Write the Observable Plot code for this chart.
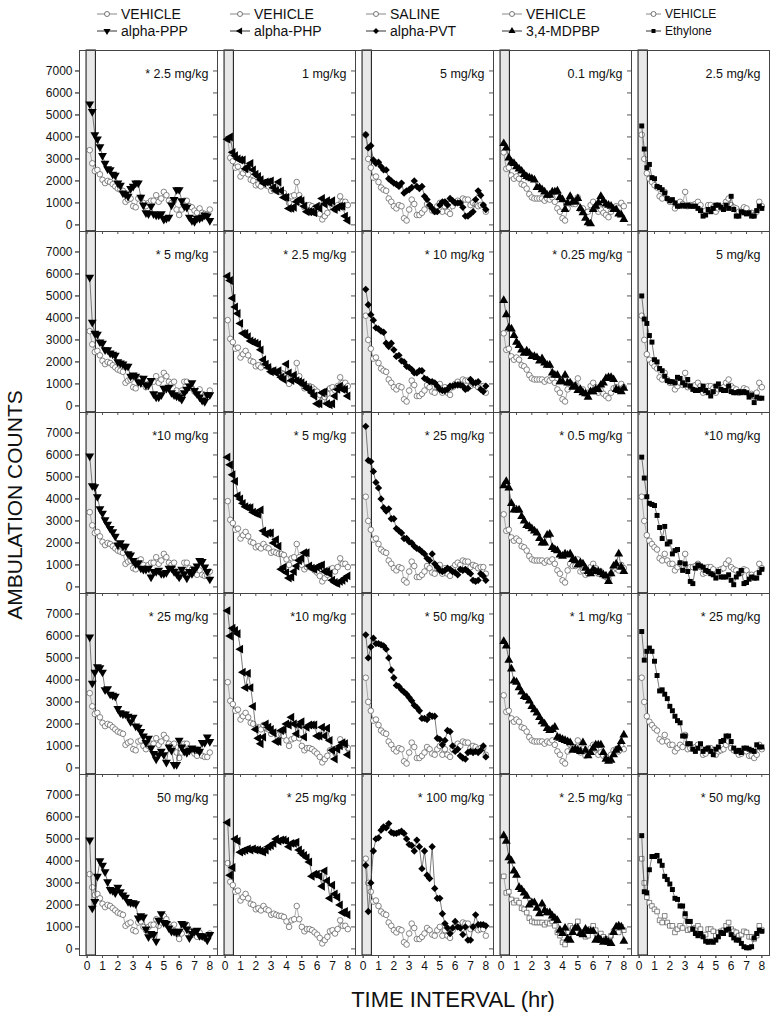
<!DOCTYPE html>
<html><head><meta charset="utf-8">
<script src="https://cdn.jsdelivr.net/npm/d3@7"></script>
<script src="https://cdn.jsdelivr.net/npm/@observablehq/plot@0.6"></script>
<style>
body{margin:0;background:#fff;}
#wrap{position:relative;width:782px;height:1024px;background:#fff;font-family:"Liberation Sans",Arial,sans-serif;overflow:hidden;}
#chart{position:absolute;left:0;top:40px;}
.leg{position:absolute;display:flex;align-items:center;font-family:"Liberation Sans Narrow","Liberation Sans",Arial,sans-serif;color:#111;white-space:nowrap;}
.leg svg{margin-right:4px;}
#ytitle{position:absolute;left:15px;top:505px;transform:translate(-50%,-50%) rotate(-90deg);font-size:21px;white-space:nowrap;color:#111;}
#xtitle{position:absolute;left:453px;top:1000px;transform:translate(-50%,-50%);font-size:22px;white-space:nowrap;color:#111;font-family:"Liberation Sans Narrow","Liberation Sans",Arial,sans-serif;}
</style></head>
<body><div id="wrap"><div id="chart"></div><div id="ytitle">AMBULATION COUNTS</div><div id="xtitle">TIME INTERVAL (hr)</div></div>
<script>
// ---- categories & labels ----
const drugs = ["alpha-PPP","alpha-PHP","alpha-PVT","3,4-MDPBP","Ethylone"];
const controlNames = ["VEHICLE","VEHICLE","SALINE","VEHICLE","VEHICLE"];
const rowsIdx = [0,1,2,3,4];
const doseLabelsPPP = ["* 2.5 mg/kg","* 5 mg/kg","*10 mg/kg","* 25 mg/kg","50 mg/kg"];
const doseLabelsPHP = ["1 mg/kg","* 2.5 mg/kg","* 5 mg/kg","*10 mg/kg","* 25 mg/kg"];
const doseLabelsPVT = ["5 mg/kg","* 10 mg/kg","* 25 mg/kg","* 50 mg/kg","* 100 mg/kg"];
const doseLabelsMDPBP = ["0.1 mg/kg","* 0.25 mg/kg","* 0.5 mg/kg","* 1 mg/kg","* 2.5 mg/kg"];
const doseLabelsEth = ["2.5 mg/kg","5 mg/kg","*10 mg/kg","* 25 mg/kg","* 50 mg/kg"];
const xTicks = [0,1,2,3,4,5,6,7,8];
const yTicks = [0,1000,2000,3000,4000,5000,6000,7000];
const minutes = [10,20,30,40,50,60,70,80,90,100,110,120,130,140,150,160,170,180,190,200,210,220,230,240,250,260,270,280,290,300,310,320,330,340,350,360,370,380,390,400,410,420,430,440,450,460,470,480];
const injectionBand = [{start:-0.04,end:0.57}];

// ---- control series (one per drug column) ----
const vehPPP = [3400,2800,2450,2500,2300,2050,1900,2000,1950,1850,1750,1650,1600,1550,1050,1150,1200,850,800,1200,1250,1000,850,1000,1100,1100,1350,1050,1200,1500,1350,1100,1000,1100,700,450,700,1100,1100,850,800,650,550,750,550,500,500,700];
const vehPHP = [3900,3050,2900,2600,2650,2200,2350,2500,2300,2050,2000,1800,1850,1750,1950,1800,1750,1550,1600,1550,1500,1500,1450,1250,1000,1300,1350,1950,1350,1000,800,900,900,850,750,650,500,250,400,550,800,850,700,900,1300,1050,1050,900];
const salPVT = [4100,3000,2600,2150,2200,1950,1700,1600,1550,1200,1050,850,750,900,850,300,200,700,1150,950,450,450,550,700,950,850,650,600,850,1000,600,850,600,500,850,1000,1100,1000,1200,1150,1150,900,1000,950,850,900,900,600];
const vehMDPBP = [3300,2550,2600,2250,2100,2200,2100,1850,1800,1650,1400,1250,1200,1200,1200,1200,1100,1200,1150,1250,1050,750,600,300,200,750,1050,950,950,1250,700,750,550,600,900,1050,850,600,700,550,450,350,600,800,850,750,1000,850];
const vehEth = [4100,3000,2350,2100,1950,1800,1700,1300,1200,1500,1200,1050,1050,750,900,1050,950,1500,850,900,900,950,1050,900,600,650,900,900,800,600,750,800,850,1050,1200,900,800,750,600,650,800,750,550,550,450,600,1050,850];

// ---- drug series ----
const ppp2_5 = [5500,5150,4100,3900,3550,3150,2800,2550,2500,2300,2250,1900,1800,1450,1400,1300,1650,1750,1900,1900,1250,900,550,500,850,500,450,450,500,250,300,350,900,1150,1600,1600,1100,850,800,350,200,150,300,300,350,450,400,200];
const ppp5 = [5850,3800,3300,3250,2900,2850,2550,2550,2400,2350,2300,2000,1950,1900,1800,1800,1350,1400,1350,1100,1050,1250,950,950,1150,550,400,400,500,800,800,850,600,500,450,400,300,600,750,900,1050,700,550,400,250,200,500,500];
const ppp10 = [5950,4600,4550,4100,3550,3350,3050,2850,2650,2500,2300,1900,2000,1850,1850,1500,1450,1200,1050,1100,850,800,800,850,450,700,700,750,600,600,650,850,850,700,600,450,800,600,400,700,600,800,950,1200,1150,900,700,350];
const ppp25 = [5950,3850,4350,4600,4550,4350,3550,3600,3350,3300,3250,2700,2500,2450,2450,2350,2100,2300,1900,1850,1650,1450,1150,1350,900,650,400,600,750,600,250,950,800,150,150,1250,950,750,700,800,900,850,850,750,1150,1150,1400,1200];
const ppp50 = [4950,1850,2150,3300,4000,3800,3500,3050,2700,2650,2550,2800,2600,2450,2350,2150,2100,2100,2050,1400,1500,1450,900,550,700,650,350,1300,1600,1200,1150,950,800,800,750,800,1150,1100,900,500,700,800,850,600,600,550,400,650];
const php1 = [3900,4000,3300,3150,3000,2950,2950,2550,2650,2800,2500,2300,2200,2050,1900,1950,1950,2000,1700,1550,1950,1550,1250,1250,750,750,800,1050,1150,1100,850,600,600,600,550,850,750,1200,950,1100,1000,1100,700,800,850,850,400,200];
const php2_5 = [5900,5700,4900,4500,4200,3750,3300,3300,3150,2950,2900,2850,2800,2550,2100,1900,1750,1550,1600,1500,1600,1300,1200,1900,1500,1150,1400,1150,1100,1050,950,800,750,600,450,100,100,600,650,100,50,100,450,750,900,750,750,450];
const php5 = [5900,5550,5100,4800,4150,4000,3800,3650,3600,3600,3400,3350,3300,3500,2550,2400,2450,2450,2000,2150,1850,800,900,650,400,450,700,950,1200,1300,1550,1550,950,850,800,900,950,1000,700,700,600,300,200,150,250,300,400,500];
const php10 = [7150,6000,6350,6250,6100,5400,4350,3650,4300,3650,2800,1750,1350,1100,1400,2000,1850,1750,1600,1200,1200,1700,1750,2000,1950,2300,2000,1550,1950,2100,1400,1850,1950,1950,1950,1450,1450,1850,1450,1800,1250,800,400,850,1000,1150,1100,600];
const php25 = [5750,3350,3700,5000,4900,4400,4450,4500,4550,4500,4550,4500,4500,4450,4400,4500,4650,4700,4800,5000,4900,4950,4950,4900,4650,4800,4800,4850,4500,4350,4250,4150,3950,3300,3400,3400,3300,2850,3550,3100,2300,2900,2500,2350,2000,1650,1700,1550];
const pvt5 = [4100,3500,3600,2950,2800,2850,2650,2500,2500,2100,2000,1900,1850,1750,1900,1450,1550,1600,1700,2000,1750,1650,1750,1300,1150,900,750,600,600,900,1050,1050,900,1200,1100,1000,1000,1000,800,400,400,500,600,1150,1550,1350,900,700];
const pvt10 = [5300,4600,4150,3900,3550,3500,3400,3350,2850,2700,2850,2550,2250,2300,2050,2000,1800,1750,1650,1500,1500,1600,1600,1250,1200,1100,1100,1050,900,750,700,700,750,900,900,950,950,950,900,750,800,1200,1050,1050,1100,750,650,900];
const pvt25 = [7300,5750,5700,5250,4750,4500,4000,3600,3450,3550,3100,3100,2650,2550,2450,2200,2200,2050,2000,1850,1750,1700,1600,1500,1300,1200,1500,1050,900,750,700,750,850,800,700,650,550,800,750,800,700,600,300,250,300,600,500,300];
const pvt50 = [6050,5000,5500,5900,5650,5650,5600,5550,5400,5000,4450,4100,3750,3700,3550,3450,3350,3200,3050,2850,2750,2600,2250,2250,2200,2400,2350,2350,1350,1300,1050,1250,1700,1650,1000,750,850,550,450,400,700,750,700,750,700,800,1000,500];
const pvt100 = [3800,1700,3000,4450,5000,5050,5400,5550,5500,5700,5300,5250,5250,5300,5350,5250,5000,4750,4700,4450,4950,4650,3650,4450,3350,3200,4650,2750,2300,2300,1600,1150,950,700,950,1250,1000,950,650,1000,400,400,1000,1550,1100,1100,1100,1050];
const mdp0_1 = [3700,3500,3050,2850,2800,2650,2550,2450,2300,2200,2150,2100,2050,1700,1700,1600,1500,1350,1350,1500,1500,1550,1250,1150,700,1000,1300,1050,1050,1200,750,550,300,100,50,700,850,1000,1300,1100,950,900,850,700,700,500,450,250];
const mdp0_25 = [4800,4150,3550,3500,3200,2900,2750,2550,2400,2500,2400,2250,2250,2200,2050,2150,1950,1850,1850,1500,1400,1400,1100,1100,1400,1050,1050,850,900,700,750,600,550,400,650,650,750,750,950,1050,1250,1300,1300,1200,750,700,650,800];
const mdp0_5 = [4600,4800,4500,3800,3500,3500,3500,3200,3000,2800,2750,2650,2550,2450,2200,2000,2000,2350,2400,1800,1700,1650,1450,1400,1500,1450,1500,1250,1200,1000,1100,1050,850,700,600,800,700,700,650,550,500,250,600,950,1050,1500,900,700];
const mdp1 = [5750,5550,4900,4500,3950,3900,3650,3450,3250,3200,3050,2800,2650,2500,2300,2100,2000,1800,1700,1750,1850,1400,1350,1300,1250,1200,1150,800,850,800,750,1150,800,550,700,900,1050,1050,1050,700,400,300,350,600,800,900,1200,1500];
const mdp2_5 = [5150,4900,4150,4000,3550,3350,2800,2700,2550,2400,2000,2100,2100,1850,1600,2050,1750,1650,1650,1500,1400,1300,850,700,950,450,400,750,950,950,700,650,900,800,800,800,400,500,400,300,400,300,250,750,1000,1050,1000,350];
const eth2_5 = [4500,3450,2600,2750,2150,2100,1750,1700,1600,1450,1200,1100,1150,1000,850,850,900,850,900,850,850,850,750,650,400,450,700,600,750,900,900,800,700,900,750,1300,700,400,400,600,550,500,550,400,400,650,850,750];
const eth5 = [5000,3950,3750,3200,2900,2100,2000,1700,1600,1350,1150,1100,1100,1050,1300,1250,1050,950,1200,900,750,700,700,750,900,700,600,450,650,900,1000,750,700,700,900,650,600,600,650,600,650,600,400,500,150,400,350,350];
const eth10 = [5900,4950,4100,3800,3750,3700,3250,2700,2200,2750,1950,2050,1500,1650,1700,1100,750,1050,700,250,150,850,1000,950,900,750,700,600,550,400,700,450,450,450,550,300,100,450,600,750,150,200,350,450,400,400,650,800];
const eth25 = [6200,4900,5300,5450,5300,4850,4200,3500,3550,3350,3150,2800,2600,2350,2150,2050,1450,1450,1100,1100,850,750,900,1100,750,850,900,750,600,850,950,1200,1250,1450,1450,1200,900,750,800,700,900,900,850,800,750,1050,950,950];
const eth50 = [5150,2600,2550,3600,4200,4200,4250,4000,3800,3300,3150,2950,2700,2300,2250,1950,1950,1600,1250,1250,900,700,600,700,550,350,300,350,300,400,550,750,700,850,900,650,500,400,400,250,100,50,50,100,500,700,850,800];

// ---- assemble tables ----
const controls = [vehPPP, vehPHP, salPVT, vehMDPBP, vehEth];
const drugPanels = [
  [ppp2_5, ppp5, ppp10, ppp25, ppp50],
  [php1, php2_5, php5, php10, php25],
  [pvt5, pvt10, pvt25, pvt50, pvt100],
  [mdp0_1, mdp0_25, mdp0_5, mdp1, mdp2_5],
  [eth2_5, eth5, eth10, eth25, eth50]
];
const doseLabels = [doseLabelsPPP, doseLabelsPHP, doseLabelsPVT, doseLabelsMDPBP, doseLabelsEth];

const sqrt3 = Math.sqrt(3);
const triDown = {draw(c, size){ const y = -Math.sqrt(size/(sqrt3*3)); c.moveTo(0, -y*2); c.lineTo(-sqrt3*y, y); c.lineTo(sqrt3*y, y); c.closePath(); }};
const triLeft = {draw(c, size){ const y = -Math.sqrt(size/(sqrt3*3)); c.moveTo(y*2, 0); c.lineTo(-y, -sqrt3*y); c.lineTo(-y, sqrt3*y); c.closePath(); }};
const drugSymbols = [triDown, triLeft, d3.symbolDiamond2, d3.symbolTriangle, d3.symbolSquare];
const drugR = [3.3, 3.3, 3.3, 3.3, 2.8];

const vehData = [], drugData = [], labelData = [];
drugs.forEach((d, c) => {
  rowsIdx.forEach(r => {
    controls[c].forEach((v, i) => vehData.push({drug: d, row: r, t: minutes[i] / 60, v, sq: r === 4 && c >= 3}));
    drugPanels[c][r].forEach((v, i) => drugData.push({drug: d, col: c, row: r, t: minutes[i] / 60, v}));
    labelData.push({drug: d, row: r, label: doseLabels[c][r]});
  });
});

const narrow = '"Liberation Sans Narrow","Liberation Sans",Arial,sans-serif';
const blank = () => "";
const plain = d => String(d);

const marks = [
  Plot.rect(injectionBand, {x1: "start", x2: "end", fill: "#e8e8e8", stroke: "#222", strokeWidth: 1.1}),
  Plot.axisY({ticks: yTicks, tickSize: 4, tickFormat: blank, facetAnchor: null, label: null, stroke: "#555"}),
  Plot.axisY({ticks: yTicks, tickSize: 4, tickPadding: 3, tickFormat: plain, label: null, fontSize: 12, stroke: "#555"}),
  Plot.axisX({ticks: xTicks, tickSize: 3, tickFormat: blank, facetAnchor: null, label: null, stroke: "#555"}),
  Plot.axisX({ticks: xTicks, tickSize: 3, tickPadding: 3, tickFormat: plain, label: null, fontSize: 12, fontFamily: narrow, stroke: "#555"}),
  Plot.frame({stroke: "#444", strokeWidth: 1}),
  Plot.line(vehData, {x: "t", y: "v", fx: "drug", fy: "row", stroke: "#9a9a9a", strokeWidth: 0.8}),
  Plot.dot(vehData.filter(d => !d.sq), {x: "t", y: "v", fx: "drug", fy: "row", symbol: "circle", r: 2.8, fill: "white", stroke: "#555", strokeWidth: 0.7}),
  Plot.dot(vehData.filter(d => d.sq), {x: "t", y: "v", fx: "drug", fy: "row", symbol: "square", r: 2.6, fill: "white", stroke: "#555", strokeWidth: 0.7}),
  Plot.line(drugData, {x: "t", y: "v", fx: "drug", fy: "row", stroke: "#444", strokeWidth: 0.7}),
  ...drugs.map((d, c) => Plot.dot(drugData.filter(e => e.col === c), {x: "t", y: "v", fx: "drug", fy: "row", symbol: drugSymbols[c], r: drugR[c], fill: "black", stroke: "none"})),
  Plot.text(labelData, {fx: "drug", fy: "row", text: "label", frameAnchor: "top-right", dx: -9, dy: 19, fontSize: 12.5, textAnchor: "end", fill: "#111"})
];

const chart = Plot.plot({
  width: 782, height: 942,
  marginTop: 8, marginBottom: 25, marginLeft: 79, marginRight: 13,
  x: {domain: [-0.5, 8.5]},
  y: {domain: [-300, 7930]},
  fx: {domain: drugs, padding: 0, axis: null},
  fy: {domain: rowsIdx, padding: 0, axis: null},
  style: {fontFamily: '"Liberation Sans",Arial,sans-serif', fontSize: "12px", background: "white", color: "#111"},
  marks
});
document.getElementById("chart").appendChild(chart);

// ---- legend ----
const wrap = document.getElementById("wrap");
const legendX = [97, 230, 366, 502, 646];
const legendFont = [14, 14, 14, 14, 12];
function legendItem(x, y, text, fs, kind, c){
  const div = document.createElement("div");
  div.className = "leg";
  div.style.left = x + "px"; div.style.top = (y - 9) + "px"; div.style.height = "18px"; div.style.fontSize = fs + "px";
  const w = c === 4 ? 15 : 20;
  let sym;
  if (kind === "veh") sym = `<circle cx="${w/2}" cy="9" r="2.5" fill="white" stroke="#555" stroke-width="0.8"/>`;
  else sym = `<path transform="translate(${w/2},9)" d="${d3.symbol(drugSymbols[c], c === 4 ? 16 : 22)()}" fill="black"/>`;
  div.innerHTML = `<svg width="${w}" height="18"><line x1="0" x2="${w}" y1="9" y2="9" stroke="${kind === "veh" ? "#888" : "#333"}" stroke-width="1"/>${sym}</svg><span>${text}</span>`;
  wrap.appendChild(div);
}
drugs.forEach((d, c) => {
  legendItem(legendX[c], 14, controlNames[c], legendFont[c], "veh", c);
  legendItem(legendX[c], 31, d, legendFont[c], "drug", c);
});
</script>
</body></html>
